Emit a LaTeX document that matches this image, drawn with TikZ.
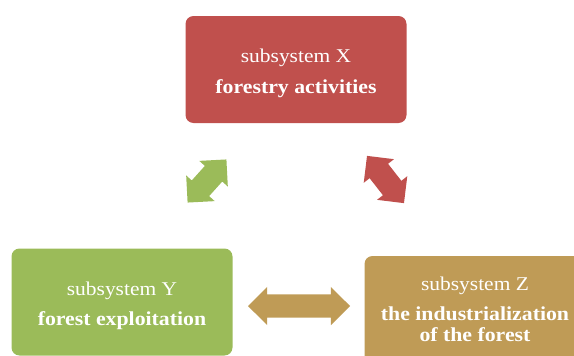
\documentclass[tikz,border=0pt]{standalone}
\usepackage{fontspec}
\setmainfont{Liberation Serif}[FakeStretch=1.1]
\usetikzlibrary{shapes.arrows}
\definecolor{cx}{HTML}{C0504D}
\definecolor{cy}{HTML}{9BBB59}
\definecolor{cz}{RGB}{191,155,86}
\begin{document}
\begin{tikzpicture}[x=1pt,y=-1pt,
  box/.style={rectangle, rounded corners=8pt, minimum width=221pt, minimum height=107pt, inner sep=0pt, outer sep=0pt},
  lbl/.style={text=white, anchor=base, inner sep=0pt, font=\fontsize{19.5}{22}\selectfont},
  blbl/.style={text=white, anchor=base, inner sep=0pt, font=\fontsize{19.8}{22}\selectfont\bfseries},
  dblarrow/.style={double arrow, double arrow head extend=7.5pt, minimum width=38pt, inner xsep=0pt, inner ysep=11.5pt, outer sep=0pt}]
\path[use as bounding box, clip] (0,0) rectangle (574,356);
\node[box, fill=cx] (X) at (296,69.5) {};
\node[box, fill=cy] (Y) at (122,302) {};
\node[box, fill=cz] (Z) at (475,309.5) {};
\node[lbl] (Xa) at (296,63) {subsystem X};
\node[blbl] (Xb) at (296,93) {forestry activities};
\node[lbl] (Ya) at (122,295) {subsystem Y};
\node[blbl] (Yb) at (122,325) {forest exploitation};
\node[lbl] (Za) at (475,290) {subsystem Z};
\node[blbl] (Zb) at (475,320) {the industrialization};
\node[blbl] (Zc) at (475,341) {of the forest};
\node[dblarrow, fill=cy, minimum height=58pt, rotate=48] (AYX) at (207,181) {};
\node[dblarrow, fill=cx, minimum height=60pt, rotate=-52] (AXZ) at (385.5,179.5) {};
\node[dblarrow, fill=cz, minimum height=102pt] (AYZ) at (299,306) {};
\end{tikzpicture}
\end{document}
